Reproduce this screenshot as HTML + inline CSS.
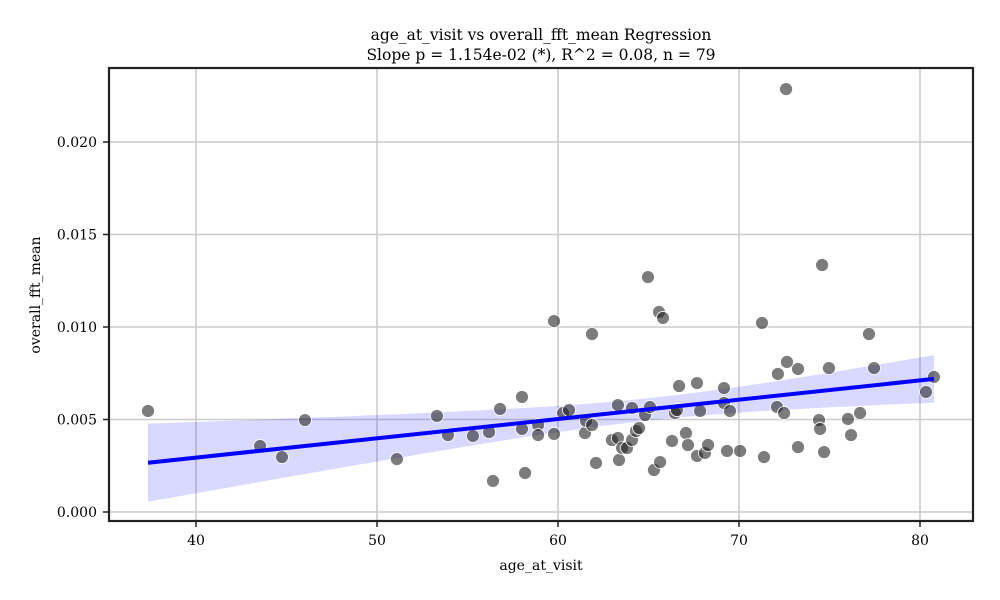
<!DOCTYPE html>
<html><head><meta charset="utf-8"><style>
html,body{margin:0;padding:0;background:#fff;}
svg{display:block;font-family:"DejaVu Serif","Liberation Serif",serif;}
</style></head><body>
<svg id="chart" width="1000" height="600" viewBox="0 0 1000 600" xmlns="http://www.w3.org/2000/svg">
<g id="grid"></g>
<g id="band"></g>
<g id="pts"></g>
<g id="axes"></g>
<text x="541" y="40" text-anchor="middle" font-size="15.5">age_at_visit vs overall_fft_mean Regression</text>
<text x="541" y="60" text-anchor="middle" font-size="15.5">Slope p = 1.154e-02 (*), R^2 = 0.08, n = 79</text>
<text x="541" y="570" text-anchor="middle" font-size="14">age_at_visit</text>
<text transform="translate(40,295) rotate(-90)" text-anchor="middle" font-size="14">overall_fft_mean</text>
</svg>
<script>
const ages=[37.35,43.54,44.75,46.02,51.10,53.31,53.92,55.30,56.19,56.41,56.80,58.01,58.01,58.18,58.90,58.90,59.78,59.78,60.28,60.61,61.49,61.55,61.88,61.88,62.10,62.98,63.31,63.31,63.37,63.54,63.81,64.09,64.09,64.31,64.48,64.97,64.81,65.08,65.30,65.58,65.64,65.80,66.30,66.46,66.57,66.69,67.07,67.18,67.68,67.68,67.85,68.12,68.29,69.17,69.17,69.34,69.50,70.06,71.27,71.38,72.10,72.15,72.49,72.65,73.26,73.26,72.60,74.59,74.42,74.48,74.70,74.97,76.02,76.19,76.69,77.18,77.46,80.33,80.77];
const fftMeans=[.00546,.00357,.00297,.00497,.00286,.00519,.00416,.00411,.00432,.00168,.00557,.00622,.00449,.00211,.00470,.00416,.00422,.01032,.00535,.00551,.00427,.00492,.00962,.00470,.00265,.00389,.00578,.00400,.00281,.00346,.00346,.00562,.00389,.00438,.00454,.01270,.00524,.00568,.00227,.01081,.00270,.01049,.00384,.00535,.00551,.00681,.00427,.00362,.00697,.00303,.00546,.00319,.00362,.00670,.00589,.00330,.00546,.00330,.01022,.00297,.00568,.00746,.00535,.00811,.00773,.00351,.02286,.01335,.00497,.00449,.00324,.00778,.00503,.00416,.00535,.00962,.00778,.00649,.00730];
const xTicks=[40,50,60,70,80];
const yTicks=[0,0.005,0.010,0.015,0.020];
const yTickLabels=["0.000","0.005","0.010","0.015","0.020"];

const L=109,R=973,T=68,B=521;
const X=v=>196+(v-40)*18.1;
const Y=v=>512-v*18500;
const NS="http://www.w3.org/2000/svg";
function mk(tag,attrs,parent){const e=document.createElementNS(NS,tag);for(const k in attrs)e.setAttribute(k,attrs[k]);parent.appendChild(e);return e;}
const grid=document.getElementById('grid'),axes=document.getElementById('axes');
xTicks.forEach(t=>{
  const g=mk('line',{x1:X(t),x2:X(t),y1:T,y2:B,stroke:'#cccccc','stroke-width':1.6},grid);
  
  
  const tk=mk('line',{x1:X(t),x2:X(t),y1:B,y2:B+6,stroke:'#222','stroke-width':1.5},axes);
  
  
  const tx=mk('text',{x:X(t),y:B+24,'text-anchor':'middle','font-size':14},axes);
  tx.textContent=t;
  
  
});
yTicks.forEach((t,i)=>{
  const g=mk('line',{x1:L,x2:R,y1:Y(t),y2:Y(t),stroke:'#cccccc','stroke-width':1.6},grid);
  
  
  const tk=mk('line',{x1:L-6,x2:L,y1:Y(t),y2:Y(t),stroke:'#222','stroke-width':1.5},axes);
  
  
  const tx=mk('text',{x:L-12,y:Y(t)+5,'text-anchor':'end','font-size':14},axes);
  tx.textContent=yTickLabels[i];
  
  
});
const frame=mk('rect',{x:L,y:T,width:R-L,height:B-T,fill:'none',stroke:'#222','stroke-width':2.2},axes);



const n=ages.length;
const mx=ages.reduce((a,b)=>a+b,0)/n, my=fftMeans.reduce((a,b)=>a+b,0)/n;
let sxx=0,sxy=0;for(let i=0;i<n;i++){sxx+=(ages[i]-mx)**2;sxy+=(ages[i]-mx)*(fftMeans[i]-my);}
const b1=sxy/sxx,b0=my-b1*mx;
let sse=0;for(let i=0;i<n;i++)sse+=(fftMeans[i]-b0-b1*ages[i])**2;
const s=Math.sqrt(sse/(n-2)),tc=1.8;
const xmin=Math.min(...ages),xmax=Math.max(...ages);
const up=[],lo=[];
for(let k=0;k<=50;k++){const x=xmin+(xmax-xmin)*k/50;const yh=b0+b1*x;const h=tc*s*Math.sqrt(1/n+(x-mx)**2/sxx);up.push(X(x)+','+Y(yh+h));lo.unshift(X(x)+','+Y(yh-h));}
const band=mk('polygon',{points:up.concat(lo).join(' '),fill:'rgba(0,0,255,0.15)',stroke:'none'},document.getElementById('band'));



const pts=document.getElementById('pts');
for(let i=0;i<n;i++){
  const c=mk('circle',{cx:X(ages[i]),cy:Y(fftMeans[i]),r:6.5,fill:'rgba(30,30,30,0.58)',stroke:'#fff','stroke-width':0.8},pts);
  
  
}
const ln=mk('line',{x1:X(xmin),y1:Y(b0+b1*xmin),x2:X(xmax),y2:Y(b0+b1*xmax),stroke:'#0000ff','stroke-width':4},pts);


</script>
</body></html>
